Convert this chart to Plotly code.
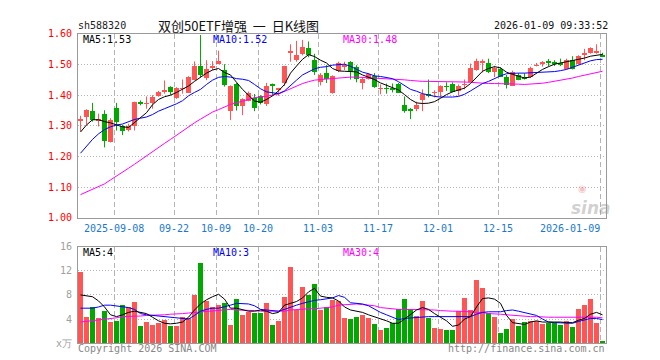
import plotly.graph_objects as go

W, H = 660, 360

tick_idx = [6, 16, 23, 30, 40, 50, 60, 70, 87]
tick_labels = ["2025-09-08", "09-22", "10-09", "10-20", "11-03", "11-17", "12-01", "12-15", "2026-01-09"]

opens = [1.318, 1.328, 1.348, 1.318, 1.338, 1.249, 1.359, 1.300, 1.288, 1.301,
         1.379, 1.372, 1.374, 1.398, 1.414, 1.427, 1.390, 1.421, 1.409, 1.451,
         1.495, 1.456, 1.491, 1.503, 1.484, 1.348, 1.437, 1.366, 1.382, 1.390,
         1.398, 1.372, 1.437, 1.419, 1.440, 1.540, 1.514, 1.535, 1.553, 1.516,
         1.445, 1.472, 1.407, 1.480, 1.495, 1.509, 1.491, 1.440, 1.453, 1.463,
         1.421, 1.423, 1.421, 1.438, 1.369, 1.356, 1.356, 1.385, 1.405, 1.408,
         1.412, 1.430, 1.437, 1.414, 1.434, 1.445, 1.482, 1.508, 1.505, 1.475,
         1.487, 1.461, 1.432, 1.466, 1.458, 1.459, 1.496, 1.504, 1.510, 1.507,
         1.504, 1.487, 1.514, 1.501, 1.534, 1.538, 1.540, 1.532]
highs = [1.333, 1.354, 1.375, 1.340, 1.351, 1.325, 1.375, 1.303, 1.307, 1.379,
         1.383, 1.396, 1.400, 1.414, 1.448, 1.429, 1.426, 1.451, 1.462, 1.510,
         1.596, 1.514, 1.511, 1.545, 1.501, 1.432, 1.440, 1.390, 1.412, 1.404,
         1.400, 1.440, 1.438, 1.424, 1.496, 1.566, 1.577, 1.580, 1.575, 1.535,
         1.472, 1.498, 1.465, 1.509, 1.509, 1.511, 1.498, 1.456, 1.472, 1.472,
         1.435, 1.438, 1.438, 1.440, 1.396, 1.358, 1.379, 1.419, 1.451, 1.416,
         1.432, 1.442, 1.442, 1.435, 1.451, 1.503, 1.519, 1.517, 1.519, 1.496,
         1.491, 1.466, 1.480, 1.472, 1.472, 1.493, 1.505, 1.511, 1.518, 1.514,
         1.519, 1.519, 1.527, 1.530, 1.551, 1.556, 1.566, 1.538]
lows = [1.282, 1.303, 1.314, 1.298, 1.230, 1.246, 1.285, 1.270, 1.282, 1.285,
        1.367, 1.356, 1.356, 1.395, 1.405, 1.401, 1.388, 1.405, 1.407, 1.448,
        1.459, 1.449, 1.482, 1.501, 1.428, 1.319, 1.350, 1.335, 1.380, 1.348,
        1.370, 1.365, 1.398, 1.398, 1.430, 1.509, 1.509, 1.530, 1.524, 1.466,
        1.432, 1.440, 1.405, 1.475, 1.482, 1.451, 1.442, 1.419, 1.451, 1.424,
        1.403, 1.405, 1.409, 1.407, 1.343, 1.322, 1.348, 1.348, 1.393, 1.393,
        1.393, 1.414, 1.409, 1.398, 1.419, 1.442, 1.480, 1.474, 1.472, 1.459,
        1.459, 1.422, 1.430, 1.449, 1.451, 1.456, 1.494, 1.493, 1.494, 1.495,
        1.495, 1.484, 1.484, 1.500, 1.514, 1.535, 1.535, 1.524]
closes = [1.321, 1.351, 1.321, 1.321, 1.251, 1.321, 1.314, 1.285, 1.300, 1.377,
          1.373, 1.375, 1.395, 1.412, 1.416, 1.411, 1.424, 1.424, 1.461, 1.496,
          1.466, 1.487, 1.494, 1.511, 1.435, 1.432, 1.364, 1.388, 1.407, 1.358,
          1.375, 1.430, 1.432, 1.422, 1.496, 1.543, 1.530, 1.558, 1.532, 1.477,
          1.466, 1.454, 1.463, 1.506, 1.497, 1.479, 1.454, 1.454, 1.469, 1.427,
          1.423, 1.421, 1.418, 1.409, 1.348, 1.348, 1.369, 1.403, 1.398, 1.410,
          1.430, 1.428, 1.412, 1.432, 1.436, 1.490, 1.511, 1.510, 1.477, 1.490,
          1.461, 1.435, 1.477, 1.451, 1.456, 1.490, 1.498, 1.506, 1.508, 1.505,
          1.502, 1.516, 1.487, 1.527, 1.536, 1.553, 1.543, 1.527]

ma5 = [1.280, 1.303, 1.320, 1.320, 1.314, 1.310, 1.303, 1.297, 1.295, 1.312,
       1.329, 1.343, 1.369, 1.386, 1.395, 1.400, 1.409, 1.419, 1.430, 1.445,
       1.459, 1.472, 1.482, 1.487, 1.474, 1.466, 1.442, 1.419, 1.400, 1.381,
       1.377, 1.386, 1.398, 1.414, 1.435, 1.472, 1.495, 1.517, 1.532, 1.526,
       1.514, 1.505, 1.487, 1.479, 1.478, 1.478, 1.476, 1.466, 1.459, 1.451,
       1.440, 1.432, 1.425, 1.417, 1.402, 1.386, 1.375, 1.373, 1.374, 1.379,
       1.390, 1.402, 1.411, 1.417, 1.423, 1.438, 1.459, 1.478, 1.487, 1.493,
       1.489, 1.475, 1.468, 1.462, 1.456, 1.459, 1.472, 1.484, 1.493, 1.501,
       1.505, 1.509, 1.511, 1.516, 1.521, 1.527, 1.531, 1.533]
ma10 = [1.211, 1.235, 1.256, 1.274, 1.288, 1.297, 1.303, 1.306, 1.314, 1.321,
        1.325, 1.329, 1.337, 1.348, 1.356, 1.363, 1.372, 1.382, 1.398, 1.409,
        1.419, 1.435, 1.449, 1.458, 1.461, 1.459, 1.454, 1.452, 1.448, 1.435,
        1.421, 1.411, 1.407, 1.405, 1.414, 1.430, 1.449, 1.466, 1.477, 1.486,
        1.491, 1.493, 1.498, 1.500, 1.501, 1.494, 1.484, 1.475, 1.470, 1.463,
        1.461, 1.458, 1.454, 1.444, 1.431, 1.419, 1.413, 1.405, 1.401, 1.396,
        1.394, 1.393, 1.394, 1.396, 1.403, 1.414, 1.427, 1.438, 1.445, 1.455,
        1.463, 1.470, 1.472, 1.472, 1.472, 1.473, 1.473, 1.474, 1.475, 1.477,
        1.480, 1.484, 1.491, 1.498, 1.505, 1.512, 1.516, 1.517]
ma30 = [1.076, 1.085, 1.093, 1.102, 1.111, 1.124, 1.136, 1.149, 1.162, 1.175,
        1.189, 1.203, 1.216, 1.230, 1.243, 1.256, 1.270, 1.284, 1.296, 1.310,
        1.322, 1.334, 1.345, 1.353, 1.361, 1.370, 1.375, 1.381, 1.387, 1.392,
        1.394, 1.396, 1.400, 1.404, 1.413, 1.421, 1.430, 1.438, 1.444, 1.449,
        1.451, 1.453, 1.455, 1.457, 1.458, 1.459, 1.459, 1.458, 1.458, 1.457,
        1.455, 1.454, 1.453, 1.451, 1.450, 1.448, 1.446, 1.445, 1.445, 1.445,
        1.445, 1.445, 1.444, 1.444, 1.443, 1.442, 1.440, 1.439, 1.438, 1.438,
        1.438, 1.438, 1.437, 1.436, 1.435, 1.436, 1.438, 1.439, 1.442, 1.445,
        1.450, 1.453, 1.456, 1.461, 1.465, 1.470, 1.474, 1.478]

volume = [11.8, 4.4, 6.1, 4.2, 5.4, 3.6, 3.8, 6.3, 6.0, 6.9,
          2.9, 3.6, 3.1, 3.4, 3.9, 2.9, 2.9, 4.4, 4.2, 8.0,
          13.4, 7.0, 6.0, 6.3, 6.7, 3.0, 7.4, 4.7, 5.3, 5.1,
          5.1, 6.7, 3.1, 3.8, 7.7, 12.7, 5.5, 9.4, 8.0, 9.8,
          5.5, 6.1, 7.2, 7.0, 4.2, 4.0, 4.4, 4.7, 4.3, 3.2,
          2.2, 2.6, 3.4, 5.8, 7.4, 5.8, 4.6, 7.0, 4.2, 2.6,
          2.4, 2.3, 2.2, 5.4, 7.6, 5.6, 10.5, 9.2, 5.1, 4.4,
          1.8, 2.4, 4.0, 2.9, 3.6, 3.8, 3.7, 3.2, 3.4, 3.4,
          3.1, 3.8, 2.8, 5.8, 6.3, 7.3, 3.4, 0.4]
vma5 = [8.0, 7.8, 7.7, 7.0, 6.0, 4.7, 4.4, 4.7, 5.1, 5.3,
        5.1, 4.9, 4.3, 3.7, 3.3, 3.2, 3.3, 3.5, 4.3, 5.5,
        6.5, 7.2, 7.7, 8.1, 7.3, 5.8, 5.8, 5.5, 5.3, 5.3,
        5.5, 5.3, 4.9, 5.1, 6.3, 6.6, 6.9, 7.5, 8.5, 9.1,
        7.8, 7.6, 7.5, 7.0, 6.0, 5.5, 5.3, 5.1, 4.7, 4.4,
        4.0, 3.7, 3.3, 3.3, 4.0, 4.8, 5.5, 5.9, 5.6, 4.9,
        4.3, 3.7, 2.8, 3.0, 4.0, 4.4, 6.0, 7.4, 7.5, 7.3,
        6.6, 4.6, 3.4, 3.2, 3.1, 3.5, 3.7, 3.5, 3.5, 3.6,
        3.5, 3.4, 3.4, 3.8, 4.1, 4.8, 5.1, 4.7]
vma10 = [5.8, 5.8, 5.8, 6.0, 6.3, 6.3, 6.2, 6.1, 5.9, 5.6,
         4.9, 4.7, 4.6, 4.5, 4.4, 4.2, 4.1, 4.1, 4.0, 4.6,
         5.3, 5.6, 5.8, 5.8, 6.0, 6.3, 6.6, 6.6, 6.5, 6.2,
         5.6, 5.5, 5.4, 5.3, 5.6, 6.0, 6.3, 6.6, 6.9, 7.1,
         7.2, 7.3, 7.5, 7.9, 7.6, 6.7, 6.6, 6.5, 6.2, 5.6,
         5.1, 4.7, 4.3, 3.9, 4.1, 4.2, 4.3, 4.4, 4.4, 4.4,
         4.4, 4.4, 4.4, 4.3, 4.3, 4.4, 4.8, 5.1, 5.2, 5.2,
         5.2, 5.4, 5.5, 5.3, 5.1, 4.8, 4.6, 4.0, 3.5, 3.4,
         3.4, 3.4, 3.3, 3.6, 3.9, 4.1, 4.1, 3.9]
vma30 = [3.5, 3.6, 3.8, 3.9, 4.0, 4.1, 4.2, 4.4, 4.4, 4.5,
         4.5, 4.6, 4.6, 4.7, 4.7, 4.8, 4.8, 4.9, 5.0, 5.1,
         5.2, 5.3, 5.4, 5.5, 5.5, 5.6, 5.5, 5.5, 5.4, 5.4,
         5.3, 5.3, 5.2, 5.2, 5.3, 5.5, 5.6, 5.6, 5.7, 5.7,
         5.8, 5.8, 6.0, 6.3, 6.4, 6.5, 6.5, 6.4, 6.3, 6.2,
         5.9, 5.8, 5.6, 5.6, 5.6, 5.6, 5.5, 5.5, 5.5, 5.5,
         5.4, 5.3, 5.3, 5.3, 5.3, 5.2, 5.1, 5.1, 4.9, 4.9,
         4.8, 4.7, 4.6, 4.5, 4.5, 4.4, 4.4, 4.3, 4.3, 4.3,
         4.3, 4.4, 4.4, 4.4, 4.4, 4.4, 4.3, 4.2]

price_ticks = [1.00, 1.10, 1.20, 1.30, 1.40, 1.50, 1.60]
vol_ticks = [0, 4, 8, 12, 16]
vol_ticktext = ["x万", "4", "8", "12", "16"]

RED = "#ff5555"
GREEN = "#00a800"
MONO = "DejaVu Sans Mono"

n = len(closes)
xs = list(range(n))
colors = [RED if c >= o else GREEN for o, c in zip(opens, closes)]


def px(x):
    return x / W


def py(y):
    return 1 - y / H


fig = go.Figure()

# wicks
for col in (RED, GREEN):
    wx, wy = [], []
    for i in xs:
        if colors[i] == col:
            wx += [i, i, None]
            wy += [lows[i], highs[i], None]
    fig.add_trace(go.Scatter(x=wx, y=wy, mode="lines", line=dict(color=col, width=1),
                             xaxis="x", yaxis="y", hoverinfo="skip", showlegend=False))

# bodies
base = [min(o, c) for o, c in zip(opens, closes)]
height = [max(abs(c - o), 0.0022) for o, c in zip(opens, closes)]
fig.add_trace(go.Bar(x=xs, y=height, base=base, marker=dict(color=colors, line=dict(width=0)),
                     width=0.74, xaxis="x", yaxis="y", showlegend=False, hoverinfo="skip"))

for arr, col in ((ma30, "#ff00ff"), (ma10, "#0000ff"), (ma5, "#000000")):
    fig.add_trace(go.Scatter(x=xs, y=arr, mode="lines", line=dict(color=col, width=1),
                             xaxis="x", yaxis="y", showlegend=False, hoverinfo="skip"))

fig.add_trace(go.Bar(x=xs, y=volume, marker=dict(color=colors, line=dict(width=0)),
                     width=0.8, xaxis="x2", yaxis="y2", showlegend=False, hoverinfo="skip"))
for arr, col in ((vma30, "#ff00ff"), (vma10, "#0000ff"), (vma5, "#000000")):
    fig.add_trace(go.Scatter(x=xs, y=arr, mode="lines", line=dict(color=col, width=1),
                             xaxis="x2", yaxis="y2", showlegend=False, hoverinfo="skip"))

xdom = [px(70), px(598)]
xrange = [-0.42, n - 0.42]
grid_x = [i - 0.4 for i in tick_idx]
FRAME = "#9a9a9a"
GRID = "#b4b4b4"

axis_common = dict(domain=xdom, range=xrange, tickvals=grid_x, showticklabels=False,
                   showgrid=True, gridcolor=GRID, griddash="5px,3px", gridwidth=1,
                   showline=True, mirror=True, linecolor=FRAME, linewidth=1,
                   zeroline=False, ticks="", fixedrange=True)

fig.update_layout(
    width=W, height=H, margin=dict(l=0, r=0, t=0, b=0),
    paper_bgcolor="white", plot_bgcolor="white",
    barmode="overlay", bargap=0, showlegend=False,
    xaxis=dict(anchor="y", **axis_common),
    xaxis2=dict(anchor="y2", matches="x", **axis_common),
    yaxis=dict(domain=[py(211), py(20.5)], range=[1.0, 1.6], tickvals=price_ticks,
               ticktext=[f"{v:.2f}" for v in price_ticks],
               tickfont=dict(family=MONO, size=10, color="#ff0000"),
               showgrid=True, gridcolor=GRID, griddash="1px,2px", gridwidth=1,
               showline=True, mirror=True, linecolor=FRAME, zeroline=False,
               ticks="", ticklabelstandoff=3, anchor="x"),
    yaxis2=dict(domain=[py(340.5), py(240.7)], range=[0, 16], tickvals=vol_ticks,
                ticktext=vol_ticktext,
                tickfont=dict(family=MONO, size=10, color="#a0a0a0"),
                showgrid=True, gridcolor=GRID, griddash="1px,2px", gridwidth=1,
                showline=True, mirror=True, linecolor=FRAME, zeroline=False,
                ticks="", ticklabelstandoff=3, anchor="x2"),
    font=dict(family=MONO, size=10, color="#000"),
)

ann = []


def txt(x, y, s, color="#000", size=10, anchor="left", family=MONO, xref="paper", xv=None):
    ann.append(dict(x=(xv if xv is not None else px(x)), y=py(y), xref=xref, yref="paper",
                    text=s, showarrow=False, xanchor=anchor, yanchor="middle",
                    font=dict(family=family, size=size, color=color), borderpad=0))


txt(69, 12, "sh588320", color="#222")
txt(231, 12, "双创50ETF增强\u00a0\u00a0一\u00a0\u00a0日K线图", size=13, anchor="center",
    family="Noto Sans CJK SC", color="#111")
txt(601, 12, "2026-01-09 09:33:52", anchor="right", color="#111")

txt(74, 26.5, f"MA5:{ma5[-1]:.2f}", color="#000")
txt(204, 26.5, f"MA10:{ma10[-1]:.2f}", color="#0000ff")
txt(334, 26.5, f"MA30:{ma30[-1]:.2f}", color="#ff00ff")

txt(74, 246.5, f"MA5:{int(vma5[-1])}", color="#000")
txt(204, 246.5, f"MA10:{int(vma10[-1])}", color="#0000ff")
txt(334, 246.5, f"MA30:{int(vma30[-1])}", color="#ff00ff")

for k, (i, lab) in enumerate(zip(tick_idx, tick_labels)):
    anchor = "right" if k == len(tick_idx) - 1 else "center"
    txt(0, 222, lab, color="#1a78d0", anchor=anchor, xref="x",
        xv=(i - 0.4 if anchor == "center" else i - 0.2))

txt(69, 346, "Copyright 2026 SINA.COM", color="#888")
txt(598, 346, "http://finance.sina.com.cn", color="#888", anchor="right")

# sina watermark
ann.append(dict(x=px(583), y=py(201), xref="paper", yref="paper", text="<b><i>sina</i></b>",
                showarrow=False, xanchor="center", yanchor="middle",
                font=dict(family="DejaVu Sans", size=17, color="rgba(150,150,150,0.45)")))
ann.append(dict(x=px(574), y=py(181), xref="paper", yref="paper", text="◉",
                showarrow=False, xanchor="center", yanchor="middle",
                font=dict(family="DejaVu Sans", size=10, color="rgba(230,80,80,0.35)")))

fig.update_layout(annotations=ann)

fig.write_html("out.html")
